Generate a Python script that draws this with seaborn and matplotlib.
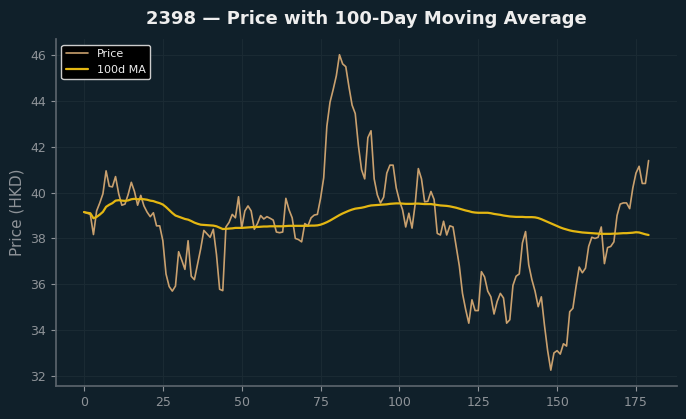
import numpy as np
import pandas as pd
import matplotlib
matplotlib.use("Agg")
import matplotlib.pyplot as plt
import seaborn as sns

# --- dados ---
TICKER = "2398"

precos = [
    39.15, 39.10, 39.05, 38.17, 39.20, 39.55, 39.95, 40.95, 40.28, 40.25,  # 0-9
    40.70, 39.95, 39.45, 39.50, 39.92, 40.45, 40.05, 39.45, 39.88, 39.42,  # 10-19
    39.15, 38.95, 39.12, 38.55, 38.55, 37.90, 36.45, 35.90, 35.70, 35.92,  # 20-29
    37.42, 37.05, 36.65, 37.90, 36.35, 36.20, 36.88, 37.55, 38.35, 38.20,  # 30-39
    38.05, 38.40, 37.30, 35.78, 35.72, 38.50, 38.70, 39.05, 38.90, 39.82,  # 40-49
    38.45, 39.20, 39.42, 39.20, 38.40, 38.65, 39.00, 38.85, 38.95, 38.88,  # 50-59
    38.80, 38.28, 38.25, 38.28, 39.75, 39.25, 38.90, 38.00, 37.95, 37.85,  # 60-69
    38.65, 38.55, 38.90, 39.02, 39.05, 39.75, 40.65, 42.90, 43.95, 44.50,  # 70-79
    45.10, 46.02, 45.62, 45.50, 44.62, 43.82, 43.45, 42.05, 41.00, 40.60,  # 80-89
    42.40, 42.70, 40.60, 39.90, 39.55, 39.80, 40.85, 41.20, 41.20, 40.20,  # 90-99
    39.65, 39.25, 38.50, 39.10, 38.45, 39.50, 41.05, 40.60, 39.60, 39.62,  # 100-109
    40.05, 39.70, 38.22, 38.15, 38.75, 38.15, 38.55, 38.50, 37.65, 36.80,  # 110-119
    35.60, 34.90, 34.30, 35.32, 34.85, 34.85, 36.55, 36.32, 35.70, 35.45,  # 120-129
    34.70, 35.25, 35.60, 35.40, 34.30, 34.45, 35.95, 36.35, 36.45, 37.80,  # 130-139
    38.30, 36.85, 36.20, 35.70, 35.02, 35.45, 34.20, 33.10, 32.25, 33.00,  # 140-149
    33.10, 32.95, 33.40, 33.30, 34.80, 34.95, 35.90, 36.75, 36.50, 36.70,  # 150-159
    37.65, 38.05, 38.00, 38.05, 38.50, 36.90, 37.60, 37.65, 37.85, 39.00,  # 160-169
    39.50, 39.55, 39.55, 39.30, 40.20, 40.85, 41.15, 40.40, 40.40, 41.40,  # 170-179
]

media_100d = [
    39.15, 39.12, 39.10, 38.88, 38.94, 39.04, 39.16, 39.38, 39.47, 39.54,  # 0-9
    39.65, 39.67, 39.65, 39.64, 39.66, 39.71, 39.73, 39.71, 39.72, 39.71,  # 10-19
    39.69, 39.65, 39.63, 39.58, 39.54, 39.48, 39.37, 39.24, 39.11, 39.00,  # 20-29
    38.95, 38.90, 38.85, 38.82, 38.76, 38.69, 38.64, 38.60, 38.59, 38.58,  # 30-39
    38.57, 38.56, 38.53, 38.47, 38.41, 38.42, 38.43, 38.44, 38.46, 38.46,  # 40-49
    38.46, 38.47, 38.48, 38.49, 38.50, 38.50, 38.51, 38.52, 38.52, 38.53,  # 50-59
    38.53, 38.53, 38.53, 38.53, 38.54, 38.55, 38.55, 38.55, 38.55, 38.55,  # 60-69
    38.55, 38.55, 38.56, 38.56, 38.57, 38.60, 38.65, 38.71, 38.78, 38.86,  # 70-79
    38.94, 39.02, 39.09, 39.15, 39.21, 39.26, 39.30, 39.32, 39.34, 39.37,  # 80-89
    39.41, 39.44, 39.45, 39.46, 39.47, 39.48, 39.49, 39.51, 39.52, 39.53,  # 90-99
    39.53, 39.52, 39.51, 39.51, 39.51, 39.52, 39.52, 39.51, 39.50, 39.50,  # 100-109
    39.50, 39.48, 39.46, 39.44, 39.43, 39.42, 39.40, 39.37, 39.34, 39.30,  # 110-119
    39.26, 39.22, 39.19, 39.15, 39.13, 39.12, 39.12, 39.12, 39.12, 39.10,  # 120-129
    39.07, 39.05, 39.03, 39.00, 38.98, 38.96, 38.95, 38.94, 38.94, 38.94,  # 130-139
    38.93, 38.93, 38.93, 38.92, 38.89, 38.84, 38.78, 38.72, 38.66, 38.60,  # 140-149
    38.54, 38.48, 38.43, 38.39, 38.35, 38.32, 38.30, 38.28, 38.26, 38.25,  # 150-159
    38.24, 38.23, 38.22, 38.21, 38.20, 38.20, 38.20, 38.20, 38.21, 38.21,  # 160-169
    38.22, 38.23, 38.23, 38.24, 38.25, 38.27, 38.26, 38.22, 38.18, 38.15,  # 170-179
]

# --- cores / estilo ---
COR_FUNDO = "#10202a"
COR_PRECO = "#c9a06e"
COR_MEDIA = "#e4b712"
COR_TEXTO = "#8e9398"

sns.set_theme(style="darkgrid", rc={
    "figure.facecolor": COR_FUNDO,
    "axes.facecolor": COR_FUNDO,
    "axes.edgecolor": "#5a636b",
    "grid.color": "#1a2a33",
    "grid.linewidth": 0.8,
    "axes.labelcolor": COR_TEXTO,
    "xtick.color": COR_TEXTO,
    "ytick.color": COR_TEXTO,
    "xtick.bottom": True,
    "ytick.left": True,
    "text.color": "#eeeeee",
})
plt.rcParams["font.family"] = ["DejaVu Sans"]

df = pd.DataFrame({
    "dia": np.arange(len(precos)),
    "Price": precos,
    "100d MA": media_100d,
})

fig, ax = plt.subplots(figsize=(6.86, 4.19), dpi=100)
fig.subplots_adjust(left=0.0813, right=0.9866, bottom=0.079, top=0.907)

sns.lineplot(data=df, x="dia", y="Price", color=COR_PRECO, linewidth=1.2,
             label="Price", ax=ax)
sns.lineplot(data=df, x="dia", y="100d MA", color=COR_MEDIA, linewidth=1.6,
             label="100d MA", ax=ax)

ax.set_title(f"{TICKER} — Price with 100-Day Moving Average",
             fontsize=13, fontweight="bold", color="#eeeeee", pad=11)
ax.set_xlabel("")
ax.set_ylabel("Price (HKD)", fontsize=11, color=COR_TEXTO)
ax.set_xticks(range(0, 180, 25))
ax.set_yticks(range(32, 47, 2))
ax.tick_params(labelsize=9, length=3.5, width=0.8)
sns.despine(ax=ax)
for lado in ["left", "bottom"]:
    ax.spines[lado].set_color("#5a636b")

leg = ax.legend(loc="upper left", fontsize=8, facecolor="black",
                edgecolor="#cccccc", framealpha=1.0)
for txt in leg.get_texts():
    txt.set_color("#eeeeee")

fig.savefig("out.png", dpi=100, facecolor=fig.get_facecolor())
